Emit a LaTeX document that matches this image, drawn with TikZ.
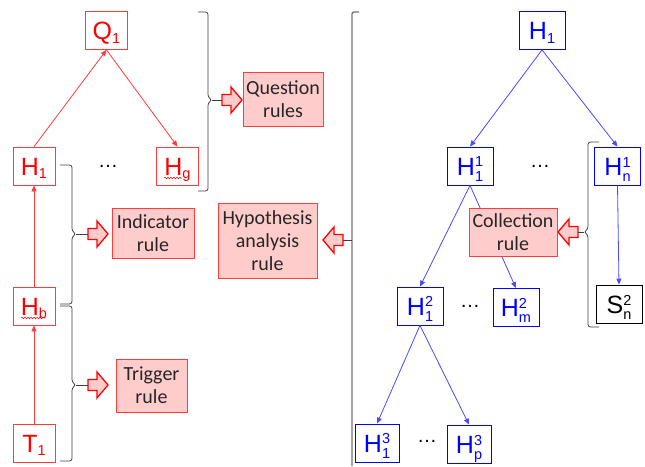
\documentclass[tikz,border=0pt]{standalone}
\usepackage{fontspec}
\usetikzlibrary{arrows.meta,decorations.pathmorphing}
\newfontfamily\labfont{Liberation Sans}
\newfontfamily\rulefont{Carlito}
\newcommand\labf{\labfont\fontsize{25}{28}\selectfont}
\newcommand\rulf{\rulefont\fontsize{20}{23}\selectfont}
\newcommand\smf{\fontsize{14.5}{14}\selectfont}
\newcommand\Hs[2]{#1\raisebox{-3.5pt}{\smf #2}}
\newcommand\Hss[3]{#1\raisebox{-6pt}{\smf\begin{tabular}[b]{@{}l@{}}#2\\#3\end{tabular}}}
\definecolor{lred}{HTML}{FF3B3B}
\definecolor{lblue}{HTML}{4A4AFF}
\definecolor{pinkf}{HTML}{FFCCCC}
\begin{document}
\begin{tikzpicture}[x=1pt,y=-1pt,
  box/.style={line width=0.8pt, fill=white, font=\labf, inner sep=0pt,
    minimum width=42pt, minimum height=38pt, text height=18pt, text depth=0pt},
  rbox/.style={box, draw=lred, text=red},
  bbox/.style={box, draw=blue, text=blue, minimum width=46pt},
  kbox/.style={box, draw=black, text=black, minimum width=46pt},
  rule/.style={draw=lred, line width=0.8pt, fill=pinkf, font=\rulf, align=center, inner sep=0pt, text=black!85},
  rarr/.style={draw=lred, line width=0.8pt, -{Triangle[length=6pt,width=5pt]}},
  barr/.style={draw=lblue, line width=0.8pt, -{Triangle[length=6pt,width=5pt]}},
  brace/.style={draw=black!75, line width=0.8pt, rounded corners=2.5pt},
  tick/.style={draw=black!75, line width=0.8pt},
  blk/.style={draw=red, line width=1.3pt, fill=pinkf, line join=miter},
  dots/.style={font=\labfont\fontsize{20}{20}\selectfont, inner sep=0pt},
  squig/.style={draw=red, line width=0.5pt, decorate, decoration={snake, amplitude=0.8pt, segment length=3pt}}
]
\useasboundingbox (0,0) rectangle (645,466);
\newcommand\blkshape{(0,-5.5) -- (9,-5.5) -- (9,-13) -- (20,0) -- (9,13) -- (9,5.5) -- (0,5.5) -- cycle}

% ---------------- left tree ----------------
\node[rbox] (Q1) at (106.5,30.5) {\Hs{Q}{1}};
\node[rbox] (H1) at (34,166) {\Hs{H}{1}};
\node[rbox] (Hg) at (177.5,166) {\Hs{H}{g}};
\node[dots] (d1) at (108,166) {\dots};
\node[rbox] (Hb) at (34,306) {\Hs{H}{b}};
\node[rbox] (T1) at (34,443) {\Hs{T}{1}};
\draw[squig] (164,178) -- (182,178);
\draw[squig] (21,318) -- (45,318);

\draw[rarr] (H1.north) -- (Q1.south);
\draw[rarr] (Q1.south) -- (Hg.north);
\draw[rarr] (Hb.north) -- (H1.south);
\draw[rarr] (T1.north) -- (Hb.south);

% rule boxes
\node[rule, minimum width=80pt, minimum height=54pt] (Qr) at (283,99) {Question\\rules};
\node[rule, minimum width=82pt, minimum height=50pt] (Ir) at (153,233) {Indicator\\rule};
\node[rule, minimum width=71pt, minimum height=53pt] (Tr) at (151.5,385.5) {Trigger\\rule};
\node[rule, minimum width=99pt, minimum height=75pt] (Hr) at (267.5,240.5) {Hypothesis\\analysis\\rule};

% block arrows (tails named)
\coordinate (aQ) at (222,100);
\coordinate (aI) at (88,234);
\coordinate (aT) at (88,385);
\coordinate (aH) at (343,240);
\coordinate (aC) at (578,232);
\draw[blk, shift={(aQ)}] \blkshape;
\draw[blk, shift={(aI)}] \blkshape;
\draw[blk, shift={(aT)}] \blkshape;
\draw[blk, shift={(aH)}, xscale=-1] \blkshape;
\draw[blk, shift={(aC)}, xscale=-1] \blkshape;

% braces
\coordinate (tQ) at (212,100);
\coordinate (tI) at (76,234);
\coordinate (tT) at (76,385);
\draw[brace] (198,12) -- (208,12) -- (208,97) -- (tQ) -- (208,103) -- (208,191) -- (198,191);
\draw[tick] (tQ) -- (aQ);
\draw[brace] (60,165) -- (72,165) -- (72,231) -- (tI) -- (72,237) -- (72,304) -- (60,304);
\draw[tick] (tI) -- (aI);
\draw[brace] (60,306) -- (72,306) -- (72,382) -- (tT) -- (72,388) -- (72,461) -- (60,461);
\draw[tick] (tT) -- (aT);

% ---------------- right tree ----------------
\draw[draw=black!55, line width=1.3pt, rounded corners=2pt] (359,12) -- (352,12) -- (352,466);
\coordinate (bt) at (352,240);
\draw[tick] (bt) -- (aH);

\node[bbox] (R1) at (542,30.5) {\Hs{H}{1}};
\node[bbox] (H11) at (470,166) {\Hss{H}{1}{1}};
\node[dots] (d2) at (540,166) {\dots};
\node[bbox] (Hn1) at (617.5,166) {\Hss{H}{1}{n}};
\node[bbox] (H12) at (420,306) {\Hss{H}{2}{1}};
\node[dots] (d3) at (470,306) {\dots};
\node[bbox] (Hm2) at (516,307.5) {\Hss{H}{2}{m}};
\node[kbox] (Sn2) at (619,304) {\Hss{S}{2}{n}};
\node[bbox, minimum width=44pt] (H13) at (377,443) {\Hss{H}{3}{1}};
\node[dots] (d4) at (427,441) {\dots};
\node[bbox, minimum width=44pt] (Hp3) at (469,444) {\Hss{H}{3}{p}};

\draw[barr] (R1.south) -- (H11.north);
\draw[barr] (R1.south) -- (Hn1.north);
\draw[barr] (Hn1.south) -- (Sn2.north);
\draw[barr] (H11.south) -- (H12.north);
\draw[barr] (H11.south) -- (Hm2.north);
\draw[barr] (H12.south) -- (H13.north);
\draw[barr] (H12.south) -- (Hp3.north);

\node[rule, minimum width=88pt, minimum height=48pt] (Cr) at (513,232) {Collection\\rule};

\coordinate (tC) at (584,232);
\draw[brace] (599,142) -- (588,142) -- (588,229) -- (tC) -- (588,235) -- (588,327) -- (599,327);
\draw[tick] (tC) -- (aC);
\end{tikzpicture}
\end{document}
